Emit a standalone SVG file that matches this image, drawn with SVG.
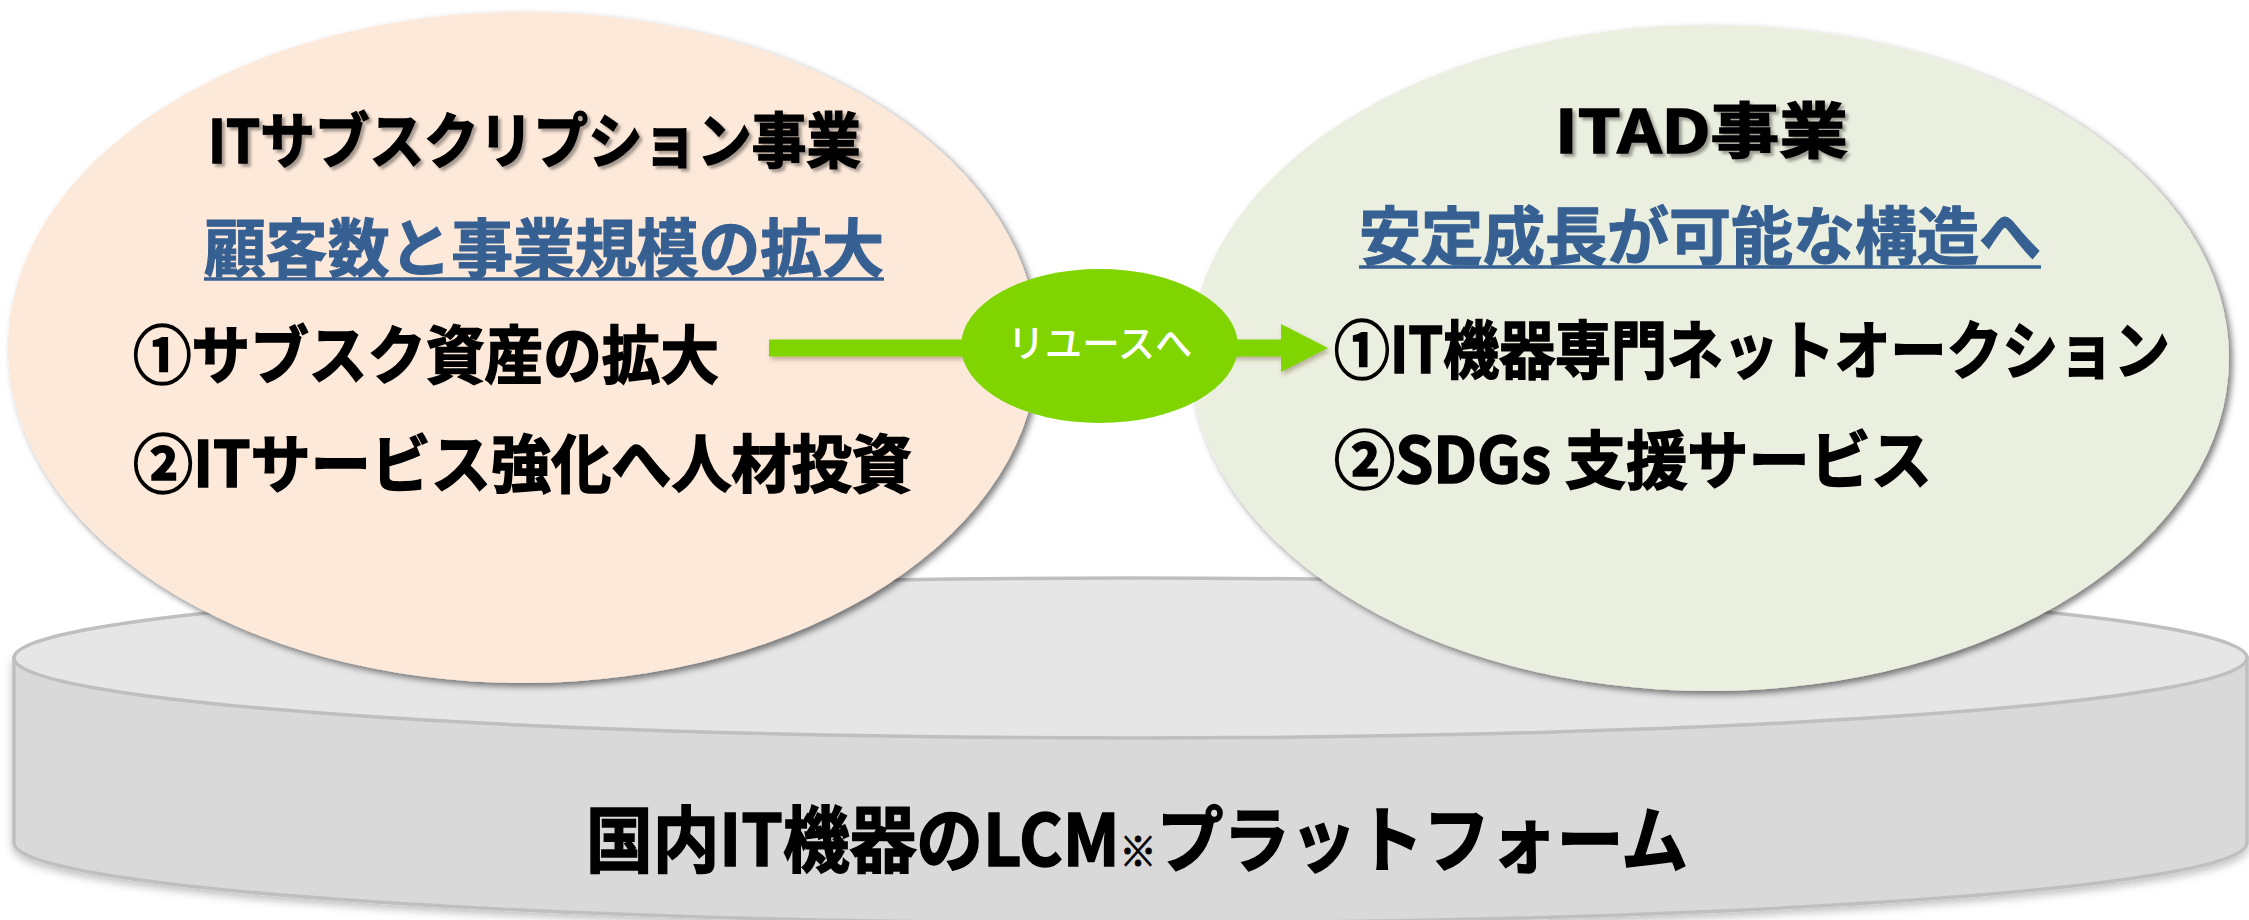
<svg xmlns="http://www.w3.org/2000/svg" width="2249" height="920" viewBox="0 0 2249 920">
  <defs>
    <filter id="shadow" x="-5%" y="-5%" width="112%" height="112%">
      <feDropShadow dx="3.5" dy="3.5" stdDeviation="3" flood-color="#000" flood-opacity="0.5"/>
    </filter>
    <filter id="cylShadow" x="-2%" y="-5%" width="104%" height="115%">
      <feDropShadow dx="0" dy="4" stdDeviation="4" flood-color="#000" flood-opacity="0.25"/>
    </filter>
    <filter id="txtShadow" x="-5%" y="-20%" width="110%" height="150%">
      <feDropShadow dx="3" dy="3" stdDeviation="1.5" flood-color="#000" flood-opacity="0.35"/>
    </filter>
    <filter id="lineShadow" filterUnits="userSpaceOnUse" x="740" y="300" width="620" height="100">
      <feDropShadow dx="2" dy="3" stdDeviation="2" flood-color="#5a3a20" flood-opacity="0.35"/>
    </filter>
    <marker id="arrowHead" markerUnits="userSpaceOnUse" markerWidth="48" markerHeight="48" refX="0" refY="24" orient="auto">
      <path d="M0,0 L47,24 L0,48 Z" fill="#80D400"/>
    </marker>
  </defs>
  <style>
    text { font-family: 'Noto Sans CJK JP', 'Noto Sans', sans-serif; font-weight: 700; }
    .title { font-size: 60px; fill: #000; stroke: #000; stroke-width: 1.6; }
    .sub { font-size: 63px; fill: #376092; stroke: #376092; stroke-width: 1.2; }
    .item { font-size: 63px; fill: #000; stroke: #000; stroke-width: 1.6; }
    .uline { stroke: #376092; stroke-width: 3.5; }
    .cylSide { fill: #D9D9D9; stroke: #BFBFBF; stroke-width: 3.5; }
    .cylTop { fill: #E6E6E6; stroke: #BFBFBF; stroke-width: 3.5; }
    .reuse { font-size: 38px; fill: #FFFFFF; font-weight: 500; }
    .platform { font-size: 72px; fill: #000; stroke: #000; stroke-width: 1.6; }
  </style>

  <rect x="0" y="0" width="2249" height="920" fill="#FFFFFF"/>

  <g id="node-platform">
    <path class="cylSide" filter="url(#cylShadow)" d="M14,658 L14,843 A1116.5,80 0 0 0 2247,843 L2247,658 Z"/>
    <ellipse class="cylTop" cx="1130.5" cy="658" rx="1116.5" ry="80"/>
    <text class="platform" x="586" y="866" textLength="1102" lengthAdjust="spacingAndGlyphs">国内IT機器のLCM<tspan font-size="40" stroke-width="1">※</tspan>プラットフォーム</text>
  </g>

  <g id="node-subscription">
    <ellipse cx="523" cy="347.5" rx="515" ry="335.5" fill="#FDE9DA" filter="url(#shadow)"/>
    <text class="title" x="208" y="163" textLength="653" lengthAdjust="spacingAndGlyphs" filter="url(#txtShadow)">ITサブスクリプション事業</text>
    <text class="sub" x="204" y="271" textLength="680" lengthAdjust="spacingAndGlyphs">顧客数と事業規模の拡大</text>
    <line class="uline" x1="204" y1="279" x2="884" y2="279"/>
    <text class="item" x="133" y="378" textLength="586" lengthAdjust="spacingAndGlyphs">①サブスク資産の拡大</text>
    <text class="item" x="133" y="487" textLength="779" lengthAdjust="spacingAndGlyphs">②ITサービス強化へ人材投資</text>
  </g>

  <g id="node-itad">
    <ellipse cx="1709.5" cy="358" rx="519.5" ry="333" fill="#EBEFDF" filter="url(#shadow)"/>
    <text class="title" x="1555" y="153" textLength="293" lengthAdjust="spacingAndGlyphs" filter="url(#txtShadow)">ITAD事業</text>
    <text class="sub" x="1359" y="259" textLength="682" lengthAdjust="spacingAndGlyphs">安定成長が可能な構造へ</text>
    <line class="uline" x1="1359" y1="267" x2="2041" y2="267"/>
    <text class="item" x="1334" y="373" textLength="836" lengthAdjust="spacingAndGlyphs">①IT機器専門ネットオークション</text>
    <text class="item" x="1334" y="483" textLength="598" lengthAdjust="spacingAndGlyphs">②SDGs 支援サービス</text>
  </g>

  <g id="connectors">
    <line x1="769" y1="348" x2="1281" y2="348" stroke="#80D400" stroke-width="17" marker-end="url(#arrowHead)" filter="url(#lineShadow)"/>
  </g>

  <g id="node-reuse">
    <ellipse cx="1099.5" cy="346" rx="138.5" ry="77" fill="#80D400"/>
    <text class="reuse" x="1100" y="357" text-anchor="middle" textLength="185" lengthAdjust="spacingAndGlyphs">リユースへ</text>
  </g>
</svg>
